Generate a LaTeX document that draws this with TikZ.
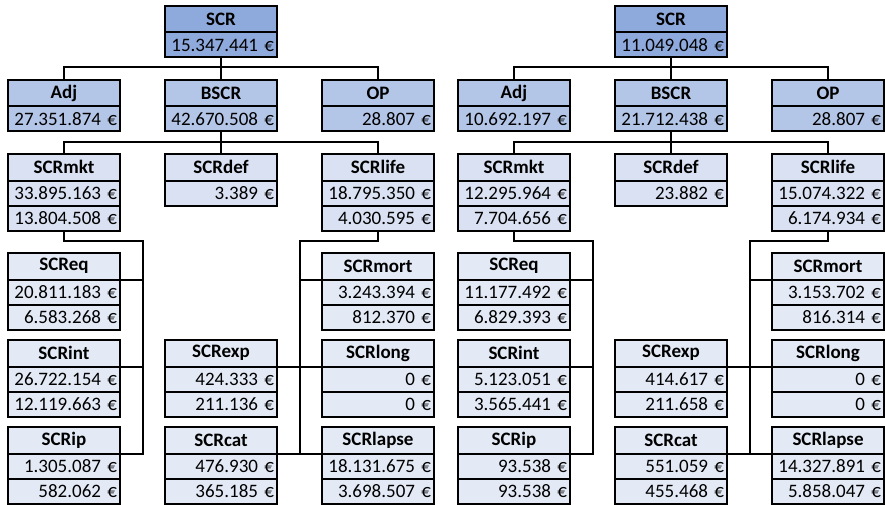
\documentclass[tikz,border=0pt]{standalone}
\usepackage{fontspec}
\setmainfont{Carlito}
\usetikzlibrary{positioning,calc}
\definecolor{lvA}{HTML}{8EA9DB}
\definecolor{lvB}{HTML}{B4C6E7}
\definecolor{lvC}{HTML}{D9E1F2}
\definecolor{lvD}{HTML}{E3EAF6}
\tikzset{
  cell/.style={draw=black, line width=2pt, outer sep=0pt, inner xsep=3pt, inner ysep=0pt,
    minimum width=112pt, minimum height=25pt, text width=106pt, font=\fontsize{19}{21}\selectfont},
  hd/.style={cell, anchor=north, align=center, minimum height=26.5pt, font=\fontsize{19}{21}\selectfont\bfseries},
  val/.style={cell, align=right},
  link/.style={line width=2pt},
}
% box with one value row
\newcommand{\scrboxii}[5]{%
  \node[hd, fill=#2] (#1) at (#3) {#4};
  \node[val, fill=#2, below=0pt of #1] (#1a) {#5};}
% box with two value rows
\newcommand{\scrboxiii}[6]{%
  \node[hd, fill=#2] (#1) at (#3) {#4};
  \node[val, fill=#2, below=0pt of #1] (#1a) {#5};
  \node[val, fill=#2, below=0pt of #1a] (#1b) {#6};}

\begin{document}
\begin{tikzpicture}[x=1pt, y=-1pt]
  \useasboundingbox (0,0) rectangle (885,505);

  %%%%% LEFT TREE %%%%%
  \scrboxii{Lscr}{lvA}{221,6}{SCR}{15.347.441 €}
  \scrboxii{Ladj}{lvB}{64,80}{Adj}{27.351.874 €}
  \scrboxii{Lbscr}{lvB}{221,80}{BSCR}{42.670.508 €}
  \scrboxii{Lop}{lvB}{378,80}{OP}{28.807 €}
  \scrboxiii{Lmkt}{lvC}{64,154}{SCRmkt}{33.895.163 €}{13.804.508 €}
  \scrboxii{Ldef}{lvC}{221,154}{SCRdef}{3.389 €}
  \scrboxiii{Llife}{lvC}{378,154}{SCRlife}{18.795.350 €}{4.030.595 €}
  \scrboxiii{Leq}{lvD}{64,253}{SCReq}{20.811.183 €}{6.583.268 €}
  \scrboxiii{Lint}{lvD}{64,340}{SCRint}{26.722.154 €}{12.119.663 €}
  \scrboxiii{Lip}{lvD}{64,427}{SCRip}{1.305.087 €}{582.062 €}
  \scrboxiii{Lmort}{lvD}{378,253}{SCRmort}{3.243.394 €}{812.370 €}
  \scrboxiii{Lexp}{lvD}{221,340}{SCRexp}{424.333 €}{211.136 €}
  \scrboxiii{Llong}{lvD}{378,340}{SCRlong}{0 €}{0 €}
  \scrboxiii{Lcat}{lvD}{221,427}{SCRcat}{476.930 €}{365.185 €}
  \scrboxiii{Llapse}{lvD}{378,427}{SCRlapse}{18.131.675 €}{3.698.507 €}

  %%%%% RIGHT TREE %%%%%
  \scrboxii{Rscr}{lvA}{671,6}{SCR}{11.049.048 €}
  \scrboxii{Radj}{lvB}{514,80}{Adj}{10.692.197 €}
  \scrboxii{Rbscr}{lvB}{671,80}{BSCR}{21.712.438 €}
  \scrboxii{Rop}{lvB}{828,80}{OP}{28.807 €}
  \scrboxiii{Rmkt}{lvC}{514,154}{SCRmkt}{12.295.964 €}{7.704.656 €}
  \scrboxii{Rdef}{lvC}{671,154}{SCRdef}{23.882 €}
  \scrboxiii{Rlife}{lvC}{828,154}{SCRlife}{15.074.322 €}{6.174.934 €}
  \scrboxiii{Req}{lvD}{514,253}{SCReq}{11.177.492 €}{6.829.393 €}
  \scrboxiii{Rint}{lvD}{514,340}{SCRint}{5.123.051 €}{3.565.441 €}
  \scrboxiii{Rip}{lvD}{514,427}{SCRip}{93.538 €}{93.538 €}
  \scrboxiii{Rmort}{lvD}{828,253}{SCRmort}{3.153.702 €}{816.314 €}
  \scrboxiii{Rexp}{lvD}{671,340}{SCRexp}{414.617 €}{211.658 €}
  \scrboxiii{Rlong}{lvD}{828,340}{SCRlong}{0 €}{0 €}
  \scrboxiii{Rcat}{lvD}{671,427}{SCRcat}{551.059 €}{455.468 €}
  \scrboxiii{Rlapse}{lvD}{828,427}{SCRlapse}{14.327.891 €}{5.858.047 €}

  %%%%% CONNECTORS %%%%%
  \foreach \s in {L,R}{
    \draw[link] (\s scra.south) -- +(0,10) -| (\s adj.north);
    \draw[link] (\s scra.south) -- (\s bscr.north);
    \draw[link] (\s scra.south) -- +(0,10) -| (\s op.north);
    \draw[link] (\s bscra.south) -- +(0,11) -| (\s mkt.north);
    \draw[link] (\s bscra.south) -- (\s def.north);
    \draw[link] (\s bscra.south) -- +(0,11) -| (\s life.north);
    % market branch
    \coordinate (\s mktbus) at ($(\s mkt.east)+(23,0)$);
    \draw[link] (\s mktb.south) -- +(0,10) -| (\s mktbus |- \s ip.south east) -- (\s ip.south east);
    \draw[link] (\s eq.south east) -- (\s mktbus |- \s eq.south east);
    \draw[link] (\s int.south east) -- (\s mktbus |- \s int.south east);
    % life branch
    \coordinate (\s lifebus) at ($(\s exp.south east)!0.5!(\s long.south west)$);
    \draw[link] (\s lifeb.south) -- +(0,10) -| (\s lifebus |- \s cat.south east);
    \draw[link] (\s mort.south west) -- (\s lifebus |- \s mort.south west);
    \draw[link] (\s exp.south east) -- (\s long.south west);
    \draw[link] (\s cat.south east) -- (\s lapse.south west);
  }
\end{tikzpicture}
\end{document}
